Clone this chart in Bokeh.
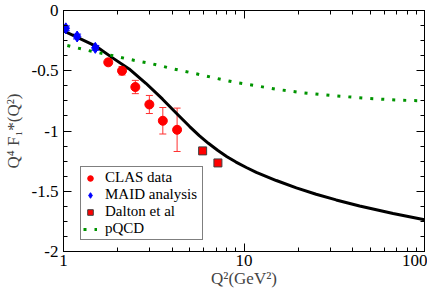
from bokeh.plotting import figure
from bokeh.models import (ColumnDataSource, Whisker, TeeHead, FixedTicker, LinearAxis,
                          LogAxis, Legend, LegendItem, Range1d, BasicTickFormatter)
from bokeh.embed import file_html
from bokeh.resources import INLINE

# ---- data ----
model_q2 = [1.0, 1.5, 1.87, 2.31, 2.86, 3.54, 4.37, 5.0, 5.65, 6.35, 7.17, 8.05, 9.03, 10.3, 11.7,
            15.1, 19.5, 25.1, 32.4, 43.7, 67.0, 100.0]
model_f = [-0.168, -0.293, -0.393, -0.485, -0.604, -0.736, -0.875, -0.963, -1.038, -1.102, -1.162,
           -1.213, -1.258, -1.303, -1.343, -1.411, -1.472, -1.525, -1.572, -1.622, -1.684, -1.736]

pqcd_q2 = [1.05, 1.38, 1.81, 2.38, 3.11, 4.07, 5.34, 6.99, 9.11, 12.0, 15.7, 20.7, 31.2, 47.2, 71.4, 100.0]
pqcd_f = [-0.291, -0.333, -0.37, -0.409, -0.443, -0.485, -0.523, -0.562, -0.599, -0.628, -0.657, -0.681,
          -0.707, -0.728, -0.744, -0.75]

clas_q2 = [1.77, 2.11, 2.50, 2.99, 3.55, 4.26]
clas_f = [-0.43, -0.50, -0.635, -0.78, -0.915, -0.99]
clas_err = [0.025, 0.035, 0.055, 0.075, 0.11, 0.18]

maid_q2 = [1.03, 1.19, 1.50]
maid_f = [-0.148, -0.216, -0.31]
maid_err = [0.02, 0.02, 0.02]

dalton_q2 = [5.9, 7.17]
dalton_f = [-1.165, -1.265]

x_major = [1, 10, 100]
x_minor = [2, 3, 4, 5, 6, 7, 8, 9, 20, 30, 40, 50, 60, 70, 80, 90]
x_labels = ["1", "10", "100"]
y_major = [-2, -1.5, -1, -0.5, 0]
y_minor = [-1.875, -1.75, -1.625, -1.375, -1.25, -1.125, -0.875, -0.75, -0.625, -0.375, -0.25, -0.125]
y_labels = ["-2", "-1.5", "-1", "-0.5", "0"]

FONT = "Liberation Serif"

p = figure(width=427, height=291, x_axis_type="log",
           x_range=Range1d(1, 100), y_range=Range1d(-2, 0),
           output_backend="svg", toolbar_location=None,
           min_border_left=60, min_border_right=3, min_border_top=10, min_border_bottom=40)
p.grid.visible = False
p.outline_line_color = "black"
p.outline_line_width = 1
p.background_fill_color = "white"
p.border_fill_color = "white"


def style_axis(ax, show_labels=True):
    ax.major_tick_in = 8
    ax.major_tick_out = 0
    ax.minor_tick_in = 4
    ax.minor_tick_out = 0
    ax.axis_line_color = "black"
    ax.major_tick_line_color = "black"
    ax.minor_tick_line_color = "black"
    if show_labels:
        ax.major_label_text_font = FONT
        ax.major_label_text_font_size = "17px"
        ax.major_label_text_color = "black"
    else:
        ax.major_label_text_font_size = "1px"
        ax.major_label_text_alpha = 0
        ax.major_label_standoff = 0


xt = FixedTicker(ticks=x_major, minor_ticks=x_minor)
yt = FixedTicker(ticks=y_major, minor_ticks=y_minor)

xa = p.xaxis[0]
xa.ticker = xt
xa.formatter = BasicTickFormatter()
xa.major_label_overrides = {v: s for v, s in zip(x_major, x_labels)}
style_axis(xa)
xa.major_label_standoff = 3
xa.axis_label = "Q²(GeV²)"
xa.axis_label_text_font = FONT
xa.axis_label_text_font_style = "normal"
xa.axis_label_text_font_size = "17px"
xa.axis_label_standoff = 0

ya = p.yaxis[0]
ya.ticker = yt
ya.major_label_overrides = {v: s for v, s in zip(y_major, y_labels)}
style_axis(ya)
ya.major_label_standoff = 5
ya.axis_label = "Q⁴ F₁*(Q²)"
ya.axis_label_text_font = FONT
ya.axis_label_text_font_style = "normal"
ya.axis_label_text_font_size = "17px"
ya.axis_label_standoff = 6

top = LogAxis(ticker=xt, formatter=BasicTickFormatter())
style_axis(top, False)
p.add_layout(top, "above")
right = LinearAxis(ticker=yt)
style_axis(right, False)
p.add_layout(right, "right")

# curves
model_r = p.line(model_q2, model_f, line_color="black", line_width=3, line_join="round")
pqcd_r = p.line(pqcd_q2, pqcd_f, line_color="#009400", line_width=3, line_dash="3 8", line_cap="butt")

# error bars
clas_src = ColumnDataSource(dict(x=clas_q2, y=clas_f,
                                 up=[f + e for f, e in zip(clas_f, clas_err)],
                                 lo=[f - e for f, e in zip(clas_f, clas_err)]))
maid_src = ColumnDataSource(dict(x=maid_q2, y=maid_f,
                                 up=[f + e for f, e in zip(maid_f, maid_err)],
                                 lo=[f - e for f, e in zip(maid_f, maid_err)]))
p.add_layout(Whisker(base="x", upper="up", lower="lo", source=clas_src, dimension="height",
                     line_color="#ff3030", line_width=1,
                     upper_head=TeeHead(size=7, line_color="#ff3030", line_width=1),
                     lower_head=TeeHead(size=7, line_color="#ff3030", line_width=1)))
p.add_layout(Whisker(base="x", upper="up", lower="lo", source=maid_src, dimension="height",
                     line_color="#0000ff", line_width=1,
                     upper_head=TeeHead(size=8, line_color="#0000ff", line_width=1),
                     lower_head=TeeHead(size=8, line_color="#0000ff", line_width=1)))

clas_r = p.scatter("x", "y", source=clas_src, marker="circle", size=9,
                   fill_color="#ff0000", line_color="#ff0000")
maid_r = p.scatter("x", "y", source=maid_src, marker="diamond", size=11,
                   fill_color="#0000ff", line_color="#0000ff")
dalton_r = p.scatter(dalton_q2, dalton_f, marker="square", size=8,
                     fill_color="#ff0000", line_color="#404040", line_width=1)

legend = Legend(items=[LegendItem(label="CLAS data", renderers=[clas_r]),
                       LegendItem(label="MAID analysis", renderers=[maid_r]),
                       LegendItem(label="Dalton et al", renderers=[dalton_r]),
                       LegendItem(label="pQCD", renderers=[pqcd_r])],
                location=(17, 11), orientation="vertical")
legend.border_line_color = "black"
legend.border_line_width = 1
legend.background_fill_color = "white"
legend.background_fill_alpha = 1
legend.padding = 2
legend.spacing = 0
legend.margin = 0
legend.label_standoff = 8
legend.glyph_width = 14
legend.glyph_height = 16
legend.label_height = 16
legend.label_width = 95
legend.label_text_font = FONT
legend.label_text_font_size = "15px"
legend.label_text_color = "black"
p.add_layout(legend)

open("out.html", "w").write(file_html(p, INLINE))
